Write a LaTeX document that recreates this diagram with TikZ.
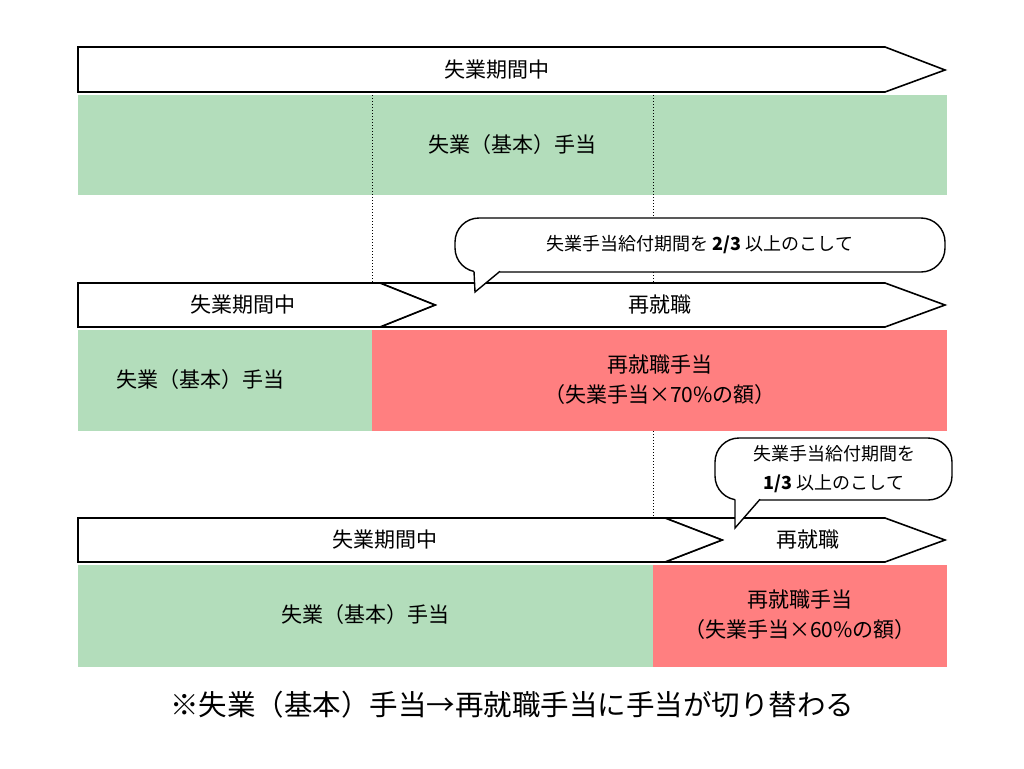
\documentclass[tikz,border=0pt]{standalone}
\usepackage{fontspec}
\setmainfont{Noto Sans CJK JP}
\definecolor{gr}{HTML}{B3DDBB}
\definecolor{rd}{HTML}{FF7F80}
\begin{document}
\begin{tikzpicture}[x=1pt,y=-1pt,
  ar/.style={draw=black,line width=1.6pt,fill=white,line join=miter},
  dl/.style={dotted,line width=1pt},
  t/.style={font=\fontsize{21}{30}\selectfont,align=center},
  co/.style={draw=black,line width=1.4pt,fill=white,rounded corners=24pt},
  tl/.style={draw=black,line width=1.4pt,fill=white,line join=miter}]
\useasboundingbox (0,0) rectangle (1024,768);
% row 1
\draw[ar] (78,47) -- (885,47) -- (945,70) -- (885,92) -- (78,92) -- cycle;
\node[t] (l1) at (497,70) {失業期間中};
\fill[gr] (78,95) rectangle (947,195);
\node[t] (g1) at (512,145) {失業（基本）手当};
% row 2
\fill[gr] (78,330) rectangle (372,431);
\fill[rd] (372,330) rectangle (947,431);
\draw[ar] (380,283) -- (885,283) -- (945,305) -- (885,327) -- (380,327) -- (435,305) -- cycle;
\draw[ar] (78,283) -- (380,283) -- (435,305) -- (380,327) -- (78,327) -- cycle;
\node[t] (l2) at (243,305) {失業期間中};
\node[t] (r2) at (660,305) {再就職};
\node[t] (g2) at (200,380) {失業（基本）手当};
\node[t] (d2) at (660,380) {再就職手当\\（失業手当×70\%の額）};
% row 3
\fill[gr] (78,565) rectangle (653,667);
\fill[rd] (653,565) rectangle (947,667);
\draw[ar] (665,518) -- (885,518) -- (945,540) -- (885,562) -- (665,562) -- (722,540) -- cycle;
\draw[ar] (78,518) -- (665,518) -- (722,540) -- (665,562) -- (78,562) -- cycle;
\node[t] (l3) at (385,540) {失業期間中};
\node[t] (r3) at (808,540) {再就職};
\node[t] (g3) at (365,615) {失業（基本）手当};
\node[t] (d3) at (800,615) {再就職手当\\（失業手当×60\%の額）};
% dotted lines
\draw[dl] (372,95) -- (372,283);
\draw[dl] (653,95) -- (653,283);
\draw[dl] (653,431) -- (653,518);
% callouts
\draw[co] (455,218) rectangle (945,272);
\fill[white] (474,270) rectangle (500,274);
\draw[tl] (474,271.3) -- (475,292) -- (500,271.3);
\node[t,font=\fontsize{18}{26}\selectfont] (c1) at (700,245) {失業手当給付期間を \textbf{2/3} 以上のこして};
\draw[co] (715,438) rectangle (952,500);
\fill[white] (735,498) rectangle (760,502);
\draw[tl] (735,499.3) -- (735,528) -- (760,499.3);
\node[t,font=\fontsize{18}{29}\selectfont] (c2) at (834,469) {失業手当給付期間を\\\textbf{1/3} 以上のこして};
% footer
\node[t,font=\fontsize{28.5}{34}\selectfont] (f) at (512,705) {※失業（基本）手当→再就職手当に手当が切り替わる};
\end{tikzpicture}
\end{document}
